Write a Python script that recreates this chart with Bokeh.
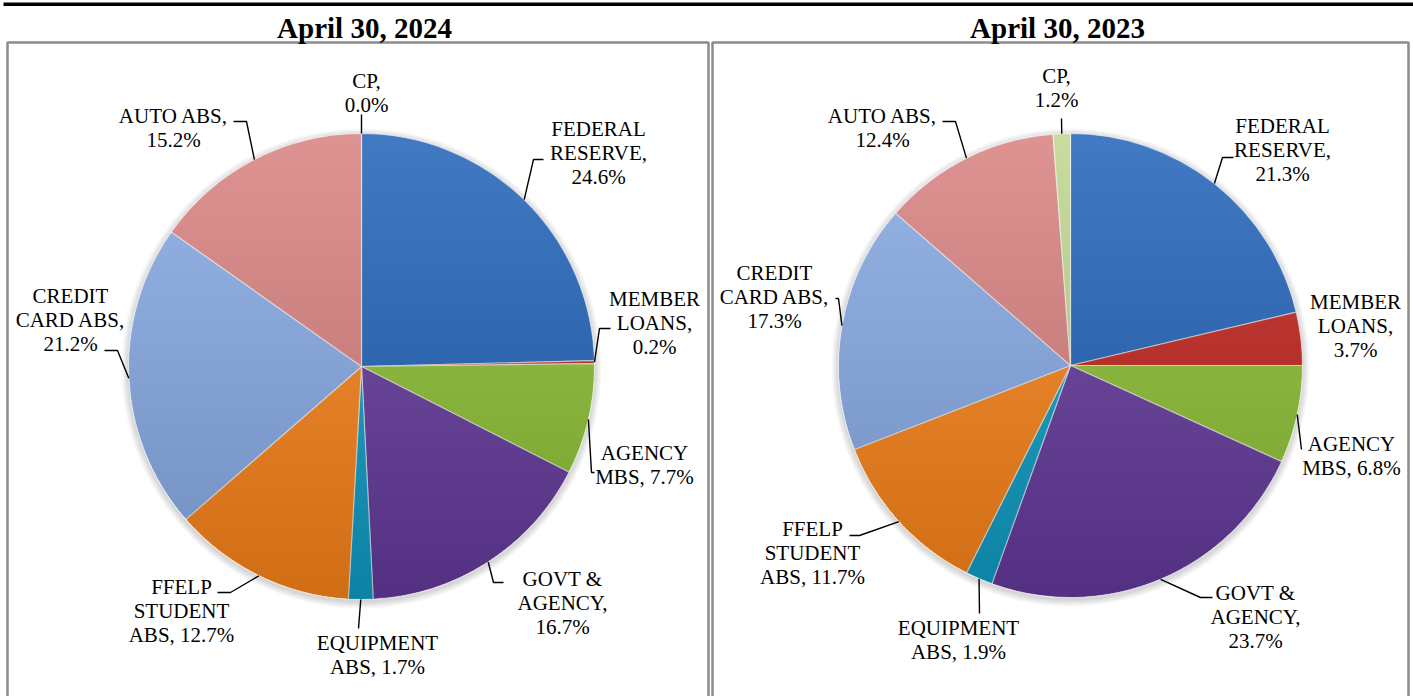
import numpy as np
from bokeh.plotting import figure
from bokeh.models import Range1d
from bokeh.core.properties import value
from bokeh.embed import file_html
from bokeh.resources import INLINE

# ---------------- data ----------------
CATEGORIES = ["FEDERAL RESERVE", "MEMBER LOANS", "AGENCY MBS", "GOVT & AGENCY",
              "EQUIPMENT ABS", "FFELP STUDENT ABS", "CREDIT CARD ABS", "AUTO ABS", "CP"]
VALUES_2024 = [24.6, 0.2, 7.7, 16.7, 1.7, 12.7, 21.2, 15.2, 0.0]
VALUES_2023 = [21.3, 3.7, 6.8, 23.7, 1.9, 11.7, 17.3, 12.4, 1.2]
TITLES = ["April 30, 2024", "April 30, 2023"]

# ---------------- styles / layout ----------------
COLORS = ["#4279c3", "#c9443f", "#9cc851", "#7a57a8", "#33a9cc",
          "#f8953c", "#97b5e6", "#de9393", "#c8dca0"]
# word indices after which a label line breaks
BREAKS = [(0, 1), (0, 1), (0,), (1, 2), (0,), (0, 1), (0, 2), (1,), (0,)]

W, H = 1413, 696
FONT = "Liberation Serif"
LABEL_SIZE = "21px"
LINE_STEP = 24
SHADE = 0.17

PANELS = [
    dict(cx=361, cy=366, r=233, title_x=364, box=(7, 42, 708, 720),
         label_xy=[(598, 128), (654, 298), (644, 452), (562, 578), (377, 642),
                   (181, 586), (70, 295), (173, 115), (366, 80)],
         elbows=[[(543, 159), (533, 159)], [(610, 328), (599, 328)],
                 [(594, 472), (591, 472)], [(503, 582), (493, 582)], [(358, 628)],
                 [(217, 592), (230, 592)], [(104, 350), (117, 350)],
                 [(233, 121), (246, 121)], [(361, 114)]]),
    dict(cx=1070, cy=365, r=232, title_x=1057, box=(712, 42, 1408, 720),
         label_xy=[(1282, 125), (1355, 301), (1351, 443), (1255, 592), (958, 627),
                   (812, 528), (774, 272), (882, 115), (1056, 75)],
         elbows=[[(1233, 157), (1222, 157)], None, [(1301, 449)],
                 [(1212, 597), (1200, 597)], [(979, 613)],
                 [(849, 535), (859, 535)], [(835, 298), (838, 298)],
                 [(942, 121), (955, 121)], [(1061, 118)]]),
]


def Y(y):
    return H - y


def label_lines(cat, val, breaks):
    words = (cat + ", " + f"{val:.1f}%").split(" ")
    lines, cur = [], []
    for i, w in enumerate(words):
        cur.append(w)
        if i in breaks:
            lines.append(" ".join(cur))
            cur = []
    if cur:
        lines.append(" ".join(cur))
    return lines


p = figure(width=W, height=H, x_range=Range1d(0, W), y_range=Range1d(0, H),
           output_backend="svg", toolbar_location=None, min_border=0)
p.min_border_left = p.min_border_right = p.min_border_top = p.min_border_bottom = 0
p.axis.visible = False
p.grid.visible = False
p.outline_line_color = None
p.background_fill_color = "white"
p.border_fill_color = "white"

# top black rule
p.quad(left=[3], right=[W], top=[Y(2)], bottom=[Y(5.5)], fill_color="black", line_color=None)

for panel, values, title in zip(PANELS, [VALUES_2024, VALUES_2023], TITLES):
    cx, cy, r = panel["cx"], panel["cy"], panel["r"]
    cxd, cyd = cx, Y(cy)
    bl, bt, br, bb = panel["box"]
    # panel frame
    p.multi_line(xs=[[bl, bl, br, br]], ys=[[Y(bb), Y(bt), Y(bt), Y(bb)]],
                 line_color="#8c8c8c", line_width=2.5)
    # title
    p.text(x=[panel["title_x"]], y=[Y(27)], text=[title], text_font=value(FONT),
           text_font_style="bold", text_font_size="29px", text_align="center",
           text_baseline="middle", text_color="black")

    # soft shadow
    for k in range(1, 8):
        p.circle(x=[cxd], y=[cyd - 2], radius=r + k, fill_color="black",
                 fill_alpha=0.022, line_color=None)

    total = sum(values)
    fr = np.array(values) / total
    c1 = np.cumsum(fr)
    c0 = c1 - fr
    start = np.pi / 2 - 2 * np.pi * c1
    end = np.pi / 2 - 2 * np.pi * c0
    keep = fr > 0
    p.wedge(x=cxd, y=cyd, radius=r, start_angle=list(start[keep]), end_angle=list(end[keep]),
            fill_color=[c for c, k in zip(COLORS, keep) if k], line_color="white",
            line_alpha=0.55, line_width=1.2)

    # vertical shading (darker toward the bottom)
    N = 40
    a = 1 - (1 - SHADE) ** (1 / (N - 1))
    xs, ys = [], []
    for k in range(1, N):
        yk = Y(cy - r + k * 2 * r / N)
        t0 = np.arcsin(np.clip((yk - cyd) / r, -1, 1))
        t = np.linspace(np.pi - t0, 2 * np.pi + t0, 120)
        xs.append(list(cxd + r * np.cos(t)))
        ys.append(list(cyd + r * np.sin(t)))
    p.patches(xs=xs, ys=ys, fill_color="black", fill_alpha=a, line_color=None)

    # labels and leader lines
    mid = np.pi / 2 - 2 * np.pi * (c0 + fr / 2)
    for i, (cat, v) in enumerate(zip(CATEGORIES, values)):
        lx, ly = panel["label_xy"][i]
        lines = label_lines(cat, v, BREAKS[i])
        p.text(x=[lx] * len(lines), y=[Y(ly + j * LINE_STEP) for j in range(len(lines))],
               text=lines, text_font=value(FONT), text_font_size=LABEL_SIZE,
               text_align="center", text_baseline="middle", text_color="black")
        el = panel["elbows"][i]
        if el:
            ex = cxd + r * np.cos(mid[i])
            ey = cyd + r * np.sin(mid[i])
            p.line(x=[q[0] for q in el] + [ex], y=[Y(q[1]) for q in el] + [ey],
                   line_color="black", line_width=1.4)

open("out.html", "w").write(file_html(p, INLINE))
